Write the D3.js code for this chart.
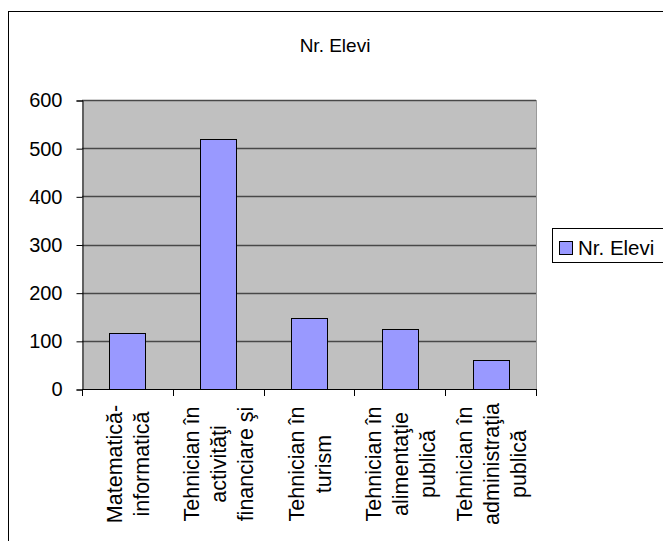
<!DOCTYPE html>
<html>
<head>
<meta charset="utf-8">
<script src="https://cdn.jsdelivr.net/npm/d3@7/dist/d3.min.js"></script>
<style>
  body { margin: 0; background: #fff; }
  svg text { font-family: Arial, "Liberation Sans", sans-serif; fill: #000; }
</style>
</head>
<body>
<div id="chart"></div>
<script>
// chart data
var categoryLines = [
  ["Matematică-", "informatică"],
  ["Tehnician în", "activităţi", "financiare şi"],
  ["Tehnician în", "turism"],
  ["Tehnician în", "alimentaţie", "publică"],
  ["Tehnician în", "administraţia", "publică"]
];
var categories = ["Matematică-informatică", "Tehnician în activităţi financiare şi",
  "Tehnician în turism", "Tehnician în alimentaţie publică", "Tehnician în administraţia publică"];
var values = [117, 520, 148, 125, 60];
var yTicks = [0, 100, 200, 300, 400, 500, 600];
var seriesName = "Nr. Elevi";

var w = 663, h = 541;
var plot = {left: 82, right: 536, top: 100, bottom: 389};

var svg = d3.select("#chart").append("svg")
  .attr("width", w)
  .attr("height", h);

// outer chart border (runs off right / bottom)
svg.append("rect")
  .attr("x", 8.5).attr("y", 11.5)
  .attr("width", w + 20).attr("height", h + 20)
  .attr("fill", "#fff")
  .attr("stroke", "#000");

svg.append("text")
  .attr("x", 335).attr("y", 52)
  .attr("text-anchor", "middle")
  .style("font-size", "19px")
  .text(seriesName);

var x = d3.scaleBand()
  .domain(categories)
  .range([plot.left, plot.right])
  .paddingInner(0)
  .paddingOuter(0);

var y = d3.scaleLinear()
  .domain([0, 600])
  .range([plot.bottom, plot.top]);

// plot background
svg.append("rect")
  .attr("x", plot.left).attr("y", plot.top)
  .attr("width", plot.right - plot.left)
  .attr("height", plot.bottom - plot.top)
  .attr("fill", "#c0c0c0");

svg.append("line")
  .attr("x1", plot.right + 0.5).attr("x2", plot.right + 0.5)
  .attr("y1", plot.top).attr("y2", plot.bottom)
  .attr("stroke", "#9a9a9a");

// gridlines
svg.selectAll("line.grid")
  .data(yTicks.filter(function(d){ return d > 0; }))
  .enter()
  .append("line")
  .attr("class", "grid")
  .attr("x1", plot.left).attr("x2", plot.right)
  .attr("y1", function(d){ return Math.round(y(d)) + 0.5; })
  .attr("y2", function(d){ return Math.round(y(d)) + 0.5; })
  .attr("stroke", "#484848")
  .attr("stroke-width", 1.4);

// bars
var bw = 36;
svg.selectAll("rect.bar")
  .data(values)
  .enter()
  .append("rect")
  .attr("class", "bar")
  .attr("x", function(d, i){ return Math.round(x(categories[i]) + x.bandwidth()/2 - bw/2) + 0.5; })
  .attr("y", function(d){ return Math.round(y(d)) + 0.5; })
  .attr("width", bw)
  .attr("height", function(d){ return Math.round(plot.bottom - y(d)); })
  .attr("fill", "#9999ff")
  .attr("stroke", "#000");

// y axis
var yAxis = d3.axisLeft(y)
  .tickValues(yTicks)
  .tickSize(6)
  .tickPadding(14);
var gy = svg.append("g")
  .attr("transform", "translate(" + (plot.left + 0.5) + ",0.5)")
  .call(yAxis);
gy.selectAll("text").style("font-size", "20px").attr("font-family", null);
gy.selectAll("path, line").attr("stroke", "#000");

// x axis with ticks at category boundaries
svg.append("line")
  .attr("x1", plot.left).attr("x2", plot.right + 1)
  .attr("y1", plot.bottom + 0.5).attr("y2", plot.bottom + 0.5)
  .attr("stroke", "#000");
var bounds = categories.map(function(c){ return x(c); }).concat([plot.right]);
svg.selectAll("line.xtick")
  .data(bounds)
  .enter()
  .append("line")
  .attr("class", "xtick")
  .attr("x1", function(d){ return Math.round(d) + 0.5; })
  .attr("x2", function(d){ return Math.round(d) + 0.5; })
  .attr("y1", plot.bottom).attr("y2", plot.bottom + 7)
  .attr("stroke", "#000");

// rotated multi-line category labels
var lh = 27;
var lab = svg.selectAll("text.xlab")
  .data(categoryLines)
  .enter()
  .append("text")
  .attr("class", "xlab")
  .attr("text-anchor", "middle")
  .style("font-size", "21.5px")
  .attr("transform", function(d, i){
    var cx = x(categories[i]) + x.bandwidth()/2;
    return "translate(" + cx + ",464) rotate(-90)";
  });
lab.each(function(lines){
  var t = d3.select(this);
  lines.forEach(function(s, k){
    t.append("tspan")
      .attr("x", 0)
      .attr("y", (k - (lines.length - 1)/2) * lh + 8)
      .text(s);
  });
});

// legend
var lg = svg.append("g");
lg.append("rect")
  .attr("x", 552.5).attr("y", 228.5)
  .attr("width", 130).attr("height", 34)
  .attr("fill", "#fff")
  .attr("stroke", "#000");
lg.append("rect")
  .attr("x", 559.5).attr("y", 241.5)
  .attr("width", 13).attr("height", 13)
  .attr("fill", "#9999ff")
  .attr("stroke", "#000");
lg.append("text")
  .attr("x", 578).attr("y", 255)
  .style("font-size", "20.5px")
  .text(seriesName);
</script>
</body>
</html>
